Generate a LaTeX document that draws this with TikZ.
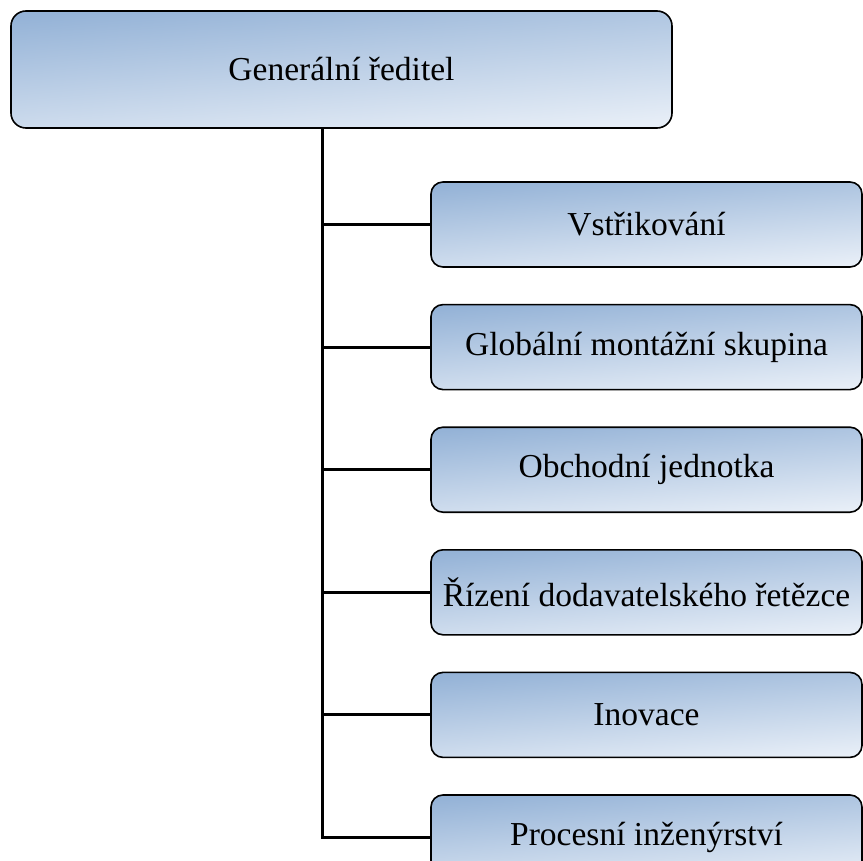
\documentclass[tikz,border=0pt]{standalone}
\usepackage{fontspec}
\setmainfont{Liberation Serif}
\usetikzlibrary{positioning}

\definecolor{boxdark}{RGB}{149,179,215}
\definecolor{boxlight}{RGB}{231,238,247}

\begin{document}
\begin{tikzpicture}[
  x=1pt, y=-1pt,
  font=\fontsize{33.5}{40}\selectfont,
  head/.style={draw, line width=1.6pt, rounded corners=15pt, top color=boxdark, bottom color=boxlight, shading angle=5, minimum width=661pt, minimum height=117pt, inner sep=0pt},
  unit/.style={draw, line width=1.6pt, rounded corners=12pt, top color=boxdark, bottom color=boxlight, shading angle=5, minimum width=431pt, minimum height=85pt, inner sep=0pt},
  link/.style={line width=3pt}
]
\useasboundingbox (0,0) rectangle (863,861);

\node[head] (ceo) at (341.5,69.5) {Generální ředitel};

\node[unit] (inj) at (646.5,224.5) {Vstřikování};
\node[unit, below=36pt of inj] (asm) {Globální montážní skupina};
\node[unit, below=36pt of asm] (biz) {Obchodní jednotka};
\node[unit, below=36pt of biz] (scm) {Řízení dodavatelského řetězce};
\node[unit, below=36pt of scm] (inno) {Inovace};
\node[unit, below=36pt of inno] (proc) {Procesní inženýrství};

\coordinate (trunk) at (322,0);
\draw[link] (trunk |- ceo.south) -- (trunk |- proc.west) -- (proc.west);
\foreach \n in {inj,asm,biz,scm,inno}
  \draw[link] (trunk |- \n.west) -- (\n.west);

\end{tikzpicture}
\end{document}
